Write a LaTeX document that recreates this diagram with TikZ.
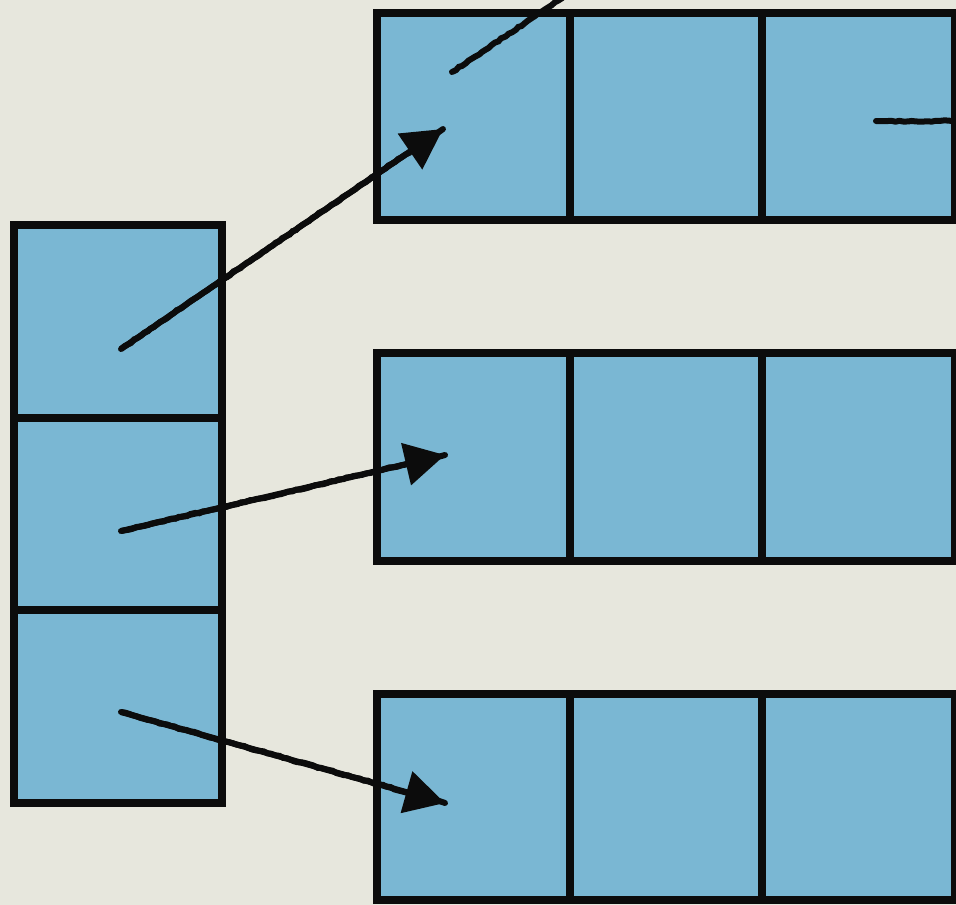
\documentclass[tikz,border=0pt]{standalone}
\usetikzlibrary{arrows.meta,decorations.pathmorphing}
\definecolor{paper}{RGB}{231,231,221}
\definecolor{cellblue}{RGB}{122,183,211}
\definecolor{ink}{RGB}{12,12,12}
\begin{document}
\begin{tikzpicture}[x=1pt,y=-1pt,
  cell/.style={draw=ink, fill=cellblue, line width=8.5pt, inner sep=0pt, outer sep=0pt,
    anchor=north west, minimum width=#1},
  cell/.default=193pt,
  link/.style={draw=ink, line width=6pt, line cap=round,
    decorate, decoration={random steps, segment length=4pt, amplitude=0.7pt}},
  tip/.style={-{Triangle[length=40pt,width=42pt]}}
]
\useasboundingbox (0,0) rectangle (956,905);
\fill[paper] (0,0) rectangle (956,905);
\clip (0,0) rectangle (956,905);
% left column
\node[cell=208pt, minimum height=193pt] (l1) at (14,225) {};
\node[cell=208pt, minimum height=192pt] (l2) at (14,418) {};
\node[cell=208pt, minimum height=193pt] (l3) at (14,610) {};
% row 1
\node[cell, minimum height=207pt] (a1) at (377,13) {};
\node[cell, minimum height=207pt] (a2) at (570,13) {};
\node[cell, minimum height=207pt] (a3) at (762,13) {};
% row 2
\node[cell, minimum height=208pt] (b1) at (377,353) {};
\node[cell, minimum height=208pt] (b2) at (570,353) {};
\node[cell, minimum height=208pt] (b3) at (762,353) {};
% row 3
\node[cell, minimum height=206pt] (c1) at (377,694) {};
\node[cell, minimum height=206pt] (c2) at (570,694) {};
\node[cell, minimum height=206pt] (c3) at (762,694) {};
% connector ends
\coordinate (s1) at (121,349);
\coordinate (s2) at (121,531);
\coordinate (s3) at (121,712);
\coordinate (e1) at (443,129);
\coordinate (e2) at (445,455);
\coordinate (e3) at (445,803);
\coordinate (t1) at (452,72);
\coordinate (t2) at (580,-14);
\coordinate (r1) at (876,121);
\coordinate (r2) at (975,121);
% connectors
\draw[link] (s1) -- (e1);
\draw[link] (s2) -- (e2);
\draw[link] (s3) -- (e3);
\draw[draw=ink, line width=6pt, tip] (s1) -- (e1);
\draw[draw=ink, line width=6pt, tip] (s2) -- (e2);
\draw[draw=ink, line width=6pt, tip] (s3) -- (e3);
\draw[link] (t1) -- (t2);
\draw[link] (r1) -- (r2);
\end{tikzpicture}
\end{document}
